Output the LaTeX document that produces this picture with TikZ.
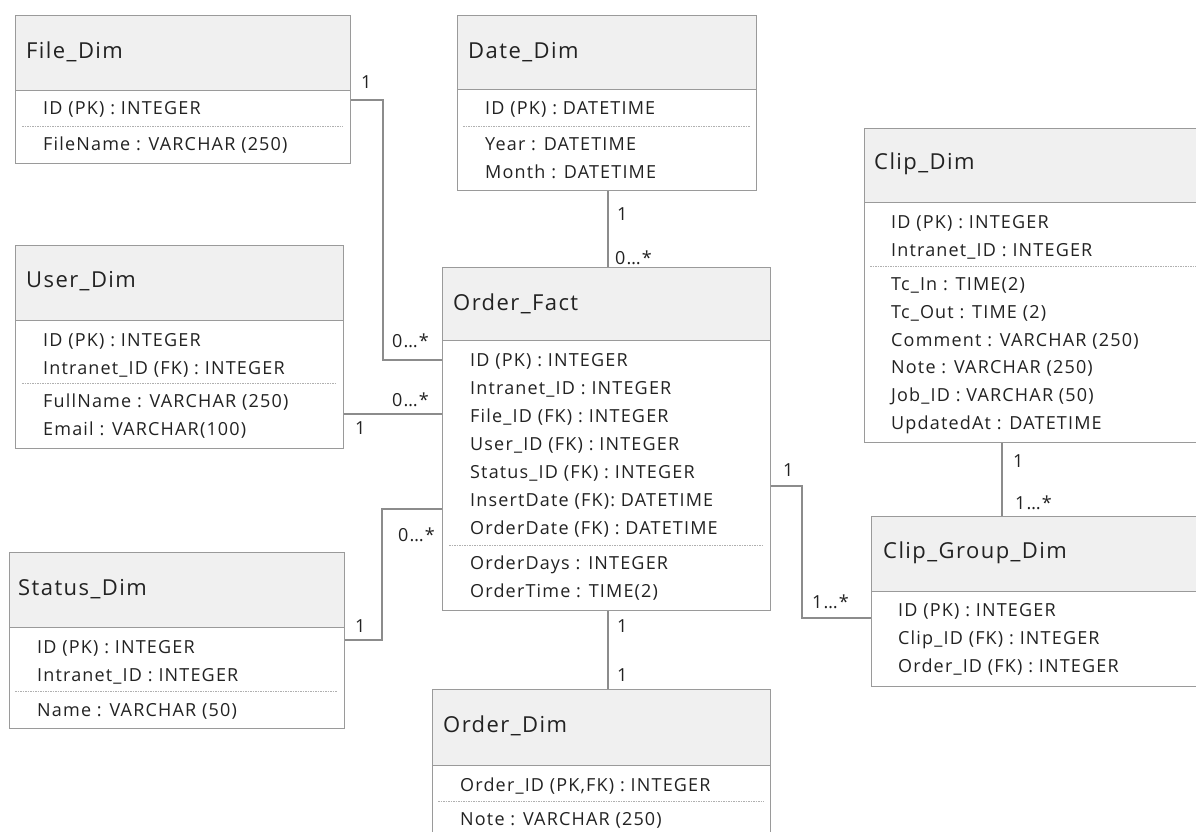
\documentclass[tikz,border=0pt]{standalone}
\usepackage{fontspec}
\setmainfont{Open Sans}
\newfontfamily\erfont[LetterSpace=6.5]{Open Sans}
\definecolor{boxc}{HTML}{9A9A9A}
\definecolor{hdrc}{HTML}{F0F0F0}
\definecolor{connc}{HTML}{8C8C8C}
\definecolor{txtc}{HTML}{222222}
\definecolor{sepc}{HTML}{B0B0B0}
\tikzset{
 box/.style={draw=boxc, line width=1.3pt, fill=white, rectangle, inner sep=0pt, anchor=north west},
 hdr/.style={draw=boxc, line width=1.3pt, fill=hdrc, rectangle, inner sep=0pt, anchor=north west},
 ttl/.style={anchor=west, font=\erfont\fontsize{22}{26}\selectfont, text=txtc, inner sep=0pt},
 row/.style={anchor=base west, font=\erfont\fontsize{18}{21}\selectfont, text=txtc, inner sep=0pt},
 sep/.style={draw=sepc, line width=0.8pt, dash pattern=on 1.5pt off 1pt},
 conn/.style={draw=connc, line width=1.3pt},
 lbl/.style={anchor=base west, font=\erfont\fontsize{18}{21}\selectfont, text=txtc, inner sep=0pt},
}
\begin{document}
\begin{tikzpicture}[x=1pt,y=-1pt]
\path[use as bounding box] (0,0) rectangle (1196,831);
\clip (0,0) rectangle (1196,831);
\fill[white] (0,0) rectangle (1196,831);

% ---------- File_Dim
\node[box, minimum width=335pt, minimum height=148pt] (file) at (15,15) {};
\node[hdr, minimum width=335pt, minimum height=75pt] (fileH) at (15,15) {};
\node[ttl] (fileT) at (26,52) {File\_Dim};
\node[row] (fileR1) at (43,114) {ID (PK) : INTEGER};
\draw[sep] (22,126) -- (343,126);
\node[row] (fileR2) at (43,150) {FileName : VARCHAR (250)};

% ---------- Date_Dim
\node[box, minimum width=299pt, minimum height=175pt] (date) at (457,15) {};
\node[hdr, minimum width=299pt, minimum height=74pt] (dateH) at (457,15) {};
\node[ttl] (dateT) at (468,52) {Date\_Dim};
\node[row] (dateR1) at (485,114) {ID (PK) : DATETIME};
\draw[sep] (463,126) -- (750,126);
\node[row] (dateR2) at (485,150) {Year : DATETIME};
\node[row] (dateR3) at (485,178) {Month : DATETIME};

% ---------- Clip_Dim
\node[box, minimum width=350pt, minimum height=314pt] (clip) at (864,128) {};
\node[hdr, minimum width=350pt, minimum height=74pt] (clipH) at (864,128) {};
\node[ttl] (clipT) at (874,164) {Clip\_Dim};
\node[row] (clipR1) at (891,228) {ID (PK) : INTEGER};
\node[row] (clipR2) at (891,256) {Intranet\_ID : INTEGER};
\draw[sep] (870,266) -- (1196,266);
\node[row] (clipR3) at (891,290) {Tc\_In : TIME(2)};
\node[row] (clipR4) at (891,318) {Tc\_Out : TIME (2)};
\node[row] (clipR5) at (891,346) {Comment : VARCHAR (250)};
\node[row] (clipR6) at (891,373) {Note : VARCHAR (250)};
\node[row] (clipR7) at (891,401) {Job\_ID : VARCHAR (50)};
\node[row] (clipR8) at (891,429) {UpdatedAt : DATETIME};

% ---------- User_Dim
\node[box, minimum width=328pt, minimum height=203pt] (user) at (15,245) {};
\node[hdr, minimum width=328pt, minimum height=75pt] (userH) at (15,245) {};
\node[ttl] (userT) at (26,281) {User\_Dim};
\node[row] (userR1) at (43,346) {ID (PK) : INTEGER};
\node[row] (userR2) at (43,374) {Intranet\_ID (FK) : INTEGER};
\draw[sep] (22,383) -- (337,383);
\node[row] (userR3) at (43,407) {FullName : VARCHAR (250)};
\node[row] (userR4) at (43,435) {Email : VARCHAR(100)};

% ---------- Order_Fact
\node[box, minimum width=328pt, minimum height=343pt] (fact) at (442,267) {};
\node[hdr, minimum width=328pt, minimum height=73pt] (factH) at (442,267) {};
\node[ttl] (factT) at (453,304) {Order\_Fact};
\node[row] (factR1) at (470,366) {ID (PK) : INTEGER};
\node[row] (factR2) at (470,394) {Intranet\_ID : INTEGER};
\node[row] (factR3) at (470,422) {File\_ID (FK) : INTEGER};
\node[row] (factR4) at (470,450) {User\_ID (FK) : INTEGER};
\node[row] (factR5) at (470,478) {Status\_ID (FK) : INTEGER};
\node[row] (factR6) at (470,506) {InsertDate (FK): DATETIME};
\node[row] (factR7) at (470,534) {OrderDate (FK) : DATETIME};
\draw[sep] (449,545) -- (764,545);
\node[row] (factR8) at (470,569) {OrderDays : INTEGER};
\node[row] (factR9) at (470,597) {OrderTime : TIME(2)};

% ---------- Status_Dim
\node[box, minimum width=335pt, minimum height=176pt] (stat) at (9,552) {};
\node[hdr, minimum width=335pt, minimum height=75pt] (statH) at (9,552) {};
\node[ttl] (statT) at (18,589) {Status\_Dim};
\node[row] (statR1) at (37,653) {ID (PK) : INTEGER};
\node[row] (statR2) at (37,681) {Intranet\_ID : INTEGER};
\draw[sep] (15,691) -- (337,691);
\node[row] (statR3) at (37,716) {Name : VARCHAR (50)};

% ---------- Clip_Group_Dim
\node[box, minimum width=340pt, minimum height=170pt] (cgrp) at (871,516) {};
\node[hdr, minimum width=340pt, minimum height=75pt] (cgrpH) at (871,516) {};
\node[ttl] (cgrpT) at (883,553) {Clip\_Group\_Dim};
\node[row] (cgrpR1) at (898,616) {ID (PK) : INTEGER};
\node[row] (cgrpR2) at (898,644) {Clip\_ID (FK) : INTEGER};
\node[row] (cgrpR3) at (898,672) {Order\_ID (FK) : INTEGER};

% ---------- Order_Dim
\node[box, minimum width=338pt, minimum height=160pt] (odim) at (432,689) {};
\node[hdr, minimum width=338pt, minimum height=76pt] (odimH) at (432,689) {};
\node[ttl] (odimT) at (443,726) {Order\_Dim};
\node[row] (odimR1) at (460,791) {Order\_ID (PK,FK) : INTEGER};
\draw[sep] (438,801) -- (764,801);
\node[row] (odimR2) at (460,825) {Note : VARCHAR (250)};

% ---------- connectors
\draw[conn] (file.east |- 0,100) -- (383,100) -- (383,360) -- (fact.west |- 0,360);
\draw[conn] (user.east |- 0,414) -- (fact.west |- 0,414);
\draw[conn] (stat.east |- 0,640) -- (382,640) -- (382,509) -- (fact.west |- 0,509);
\draw[conn] (date.south -| 608,0) -- (fact.north -| 608,0);
\draw[conn] (fact.south -| 608,0) -- (odim.north -| 608,0);
\draw[conn] (clip.south -| 1002,0) -- (cgrp.north -| 1002,0);
\draw[conn] (fact.east |- 0,486) -- (802,486) -- (802,618) -- (cgrp.west |- 0,618);

% ---------- multiplicities
\node[lbl] (m1) at (361,88) {1};
\node[lbl] (m2) at (392,347) {0…*};
\node[lbl] (m3) at (392,406) {0…*};
\node[lbl] (m4) at (355,434) {1};
\node[lbl] (m5) at (398,541) {0…*};
\node[lbl] (m6) at (355,632) {1};
\node[lbl] (m7) at (617,220) {1};
\node[lbl] (m8) at (615,264) {0…*};
\node[lbl] (m9) at (617,632) {1};
\node[lbl] (m10) at (617,681) {1};
\node[lbl] (m11) at (1013,467) {1};
\node[lbl] (m12) at (1015,509) {1…*};
\node[lbl] (m13) at (783,476) {1};
\node[lbl] (m14) at (812,608) {1…*};
\end{tikzpicture}
\end{document}
